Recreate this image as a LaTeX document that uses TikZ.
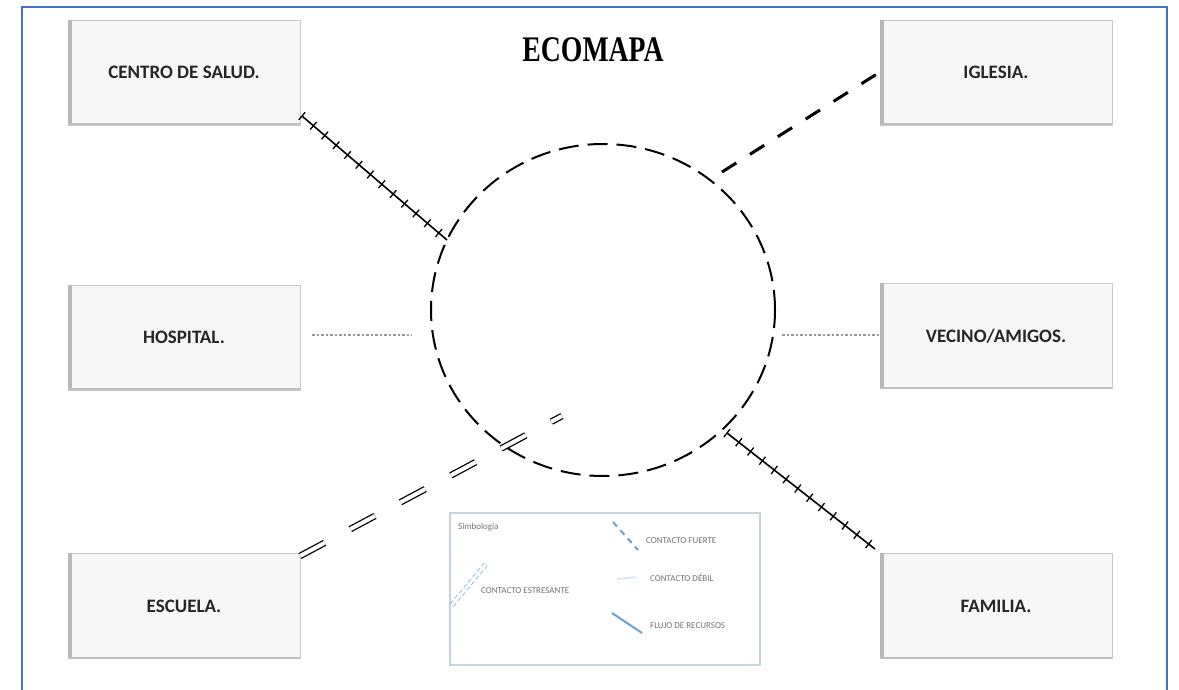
\documentclass[tikz,border=0pt]{standalone}
\usepackage{fontspec}
\setmainfont{Carlito}
\newfontfamily\titlefont{Liberation Serif}
\usepackage{graphicx}
\usetikzlibrary{shapes.geometric,decorations.pathreplacing}
\definecolor{frameblue}{HTML}{4472C4}
\definecolor{legborder}{HTML}{C5D5DE}
\definecolor{legblue}{HTML}{6A9FD0}
\tikzset{
  ebox/.style={rectangle, fill=black!3, draw=black!22, line width=0.8pt,
    minimum width=232pt, minimum height=105pt, inner sep=0pt,
    font=\fontsize{19}{19}\selectfont\bfseries, text=black!85},
  strong/.style={line width=3pt, dash pattern=on 17pt off 16pt},
  weak/.style={black!40, line width=1.3pt, dash pattern=on 2.5pt off 2pt},
  stress/.style={double, double distance=4pt, line width=1.3pt, dash pattern=on 28pt off 29pt},
  flow/.style={line width=1.6pt, postaction={decorate, draw, line width=1.3pt,
    decoration={ticks, segment length=15pt, amplitude=5pt}}},
  legtext/.style={anchor=west, font=\fontsize{9}{9}\selectfont, text=black!55, inner sep=0pt}
}
\newcommand{\boxshade}[1]{%
  \draw[black!28, line width=4pt] ([xshift=2pt]#1.north west) -- ([xshift=2pt]#1.south west);
  \draw[black!25, line width=2pt] ([yshift=1pt]#1.south west) -- ([yshift=1pt]#1.south east);}
\begin{document}
\begin{tikzpicture}[x=1pt,y=-1pt]
\useasboundingbox (0,0) rectangle (1179,690);
\fill[white] (0,0) rectangle (1179,690);
\draw[frameblue, line width=1.5pt] (22,691) -- (22,7) -- (1167,7) -- (1167,691);

% title
\node (title) at (593,50) {\titlefont\bfseries\fontsize{36}{36}\selectfont\scalebox{0.77}[1]{ECOMAPA}};

% central circle
\node[ellipse, draw, line width=2pt, dash pattern=on 20pt off 9pt,
      minimum width=344pt, minimum height=332pt, inner sep=0pt] (c) at (603,310) {};

% boxes
\node[ebox] (cs) at (184,72.5) {CENTRO DE SALUD.};
\node[ebox] (ig) at (996,72.5) {IGLESIA.};
\node[ebox] (ho) at (184,337.5) {HOSPITAL.};
\node[ebox] (ve) at (996,336) {VECINO/AMIGOS.};
\node[ebox] (es) at (184,606) {ESCUELA.};
\node[ebox] (fa) at (996,606) {FAMILIA.};
\boxshade{cs}\boxshade{ig}\boxshade{ho}\boxshade{ve}\boxshade{es}\boxshade{fa}

% connector end points
\coordinate (csA) at (302,116);  \coordinate (csB) at (447,240);
\coordinate (igA) at (722,172);  \coordinate (igB) at (880,72);
\coordinate (hoA) at (312,335);  \coordinate (hoB) at (412,335);
\coordinate (veA) at (782,335);  \coordinate (veB) at (880,335);
\coordinate (faA) at (727,433);  \coordinate (faB) at (875,549);
\coordinate (esA) at (300,556);  \coordinate (esB) at (562,416);

% connectors
\draw[flow] (csA) -- (csB);
\draw[strong] (igA) -- (igB);
\draw[weak] (hoA) -- (hoB);
\draw[weak] (veA) -- (veB);
\draw[flow] (faA) -- (faB);
\draw[stress] (esA) -- (esB);

% legend
\node[draw=legborder, line width=2.5pt, minimum width=310pt, minimum height=152pt, inner sep=0pt] (leg) at (605,589) {};
\node[legtext] (l0) at (458,527) {Simbología};
\node[legtext] (l1) at (646,541) {CONTACTO FUERTE};
\node[legtext] (l2) at (650,578) {CONTACTO DÉBIL};
\node[legtext] (l3) at (481,591) {CONTACTO ESTRESANTE};
\node[legtext] (l4) at (650,626) {FLUJO DE RECURSOS};
\coordinate (s1a) at (613,522); \coordinate (s1b) at (638,550);
\coordinate (s2a) at (617,579); \coordinate (s2b) at (636,577);
\coordinate (s3a) at (452,605); \coordinate (s3b) at (486,564);
\coordinate (s4a) at (612,613); \coordinate (s4b) at (642,633);
\draw[legblue, line width=2pt, dash pattern=on 6pt off 5pt] (s1a) -- (s1b);
\draw[legblue!30, line width=1.5pt] (s2a) -- (s2b);
\draw[legblue!70, double, double distance=3pt, line width=1pt, dash pattern=on 4pt off 3pt] (s3a) -- (s3b);
\draw[legblue, line width=2pt] (s4a) -- (s4b);
\end{tikzpicture}
\end{document}
